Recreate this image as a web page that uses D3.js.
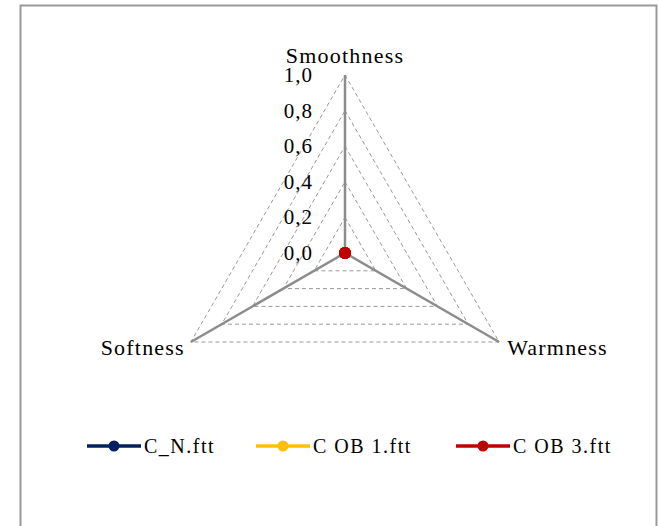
<!DOCTYPE html>
<html>
<head>
<meta charset="utf-8">
<script src="https://cdn.jsdelivr.net/npm/d3@7"></script>
<style>
  body { margin: 0; background: #fff; }
  text { font-family: "Liberation Serif", serif; fill: #000; }
</style>
</head>
<body>
<script>
const width = 658
const height = 526
const center = { x: 345, y: 253 }
const radius = 178

const axes = ['Smoothness', 'Warmness', 'Softness']
const ticks = [0, 0.2, 0.4, 0.6, 0.8, 1.0]
const seriesNames = ['C_N.ftt', 'C OB 1.ftt', 'C OB 3.ftt']
const seriesColors = ['#002060', '#FFC000', '#C00000']
const seriesValues = [
  [0, 0, 0],
  [0, 0, 0],
  [0, 0, 0]
]

const r = d3.scaleLinear().domain([0, 1]).range([0, radius])
const angle = i => -Math.PI / 2 + i * 2 * Math.PI / axes.length
const pt = (i, v) => [center.x + r(v) * Math.cos(angle(i)), center.y + r(v) * Math.sin(angle(i))]
const fmt = v => d3.format('.1f')(v).replace('.', ',')

const svg = d3.select('body').append('svg')
  .attr('width', width)
  .attr('height', height)

svg.append('rect')
  .attr('x', 20.5).attr('y', 5.5)
  .attr('width', 636).attr('height', 540)
  .attr('fill', '#fff')
  .attr('stroke', '#999')
  .attr('stroke-width', 2)

const line = d3.line()

// grid triangles
svg.selectAll('.grid').data(ticks.filter(t => t > 0)).enter()
  .append('path')
  .attr('class', 'grid')
  .attr('d', t => line(axes.map((a, i) => pt(i, t))) + 'Z')
  .attr('fill', 'none')
  .attr('stroke', '#999')
  .attr('stroke-width', 1)
  .attr('stroke-dasharray', '4,3')

// axis spokes
svg.selectAll('.spoke').data(axes).enter()
  .append('line')
  .attr('class', 'spoke')
  .attr('x1', center.x).attr('y1', center.y)
  .attr('x2', (d, i) => pt(i, 1)[0])
  .attr('y2', (d, i) => pt(i, 1)[1])
  .attr('stroke', '#8c8c8c')
  .attr('stroke-width', 2.5)

// tick labels
svg.selectAll('.tick').data(ticks).enter()
  .append('text')
  .attr('class', 'tick')
  .attr('x', 313)
  .attr('y', t => pt(0, t)[1] + 7)
  .attr('text-anchor', 'end')
  .attr('font-size', 21)
  .attr('letter-spacing', 1)
  .text(fmt)

// axis labels
const labelPos = [
  { dx: 0, dy: -12, anchor: 'middle' },
  { dx: 8, dy: 13, anchor: 'start' },
  { dx: -6, dy: 13, anchor: 'end' }
]
svg.selectAll('.axis-label').data(axes).enter()
  .append('text')
  .attr('class', 'axis-label')
  .attr('x', (d, i) => pt(i, 1)[0] + labelPos[i].dx)
  .attr('y', (d, i) => pt(i, 1)[1] + labelPos[i].dy)
  .attr('text-anchor', (d, i) => labelPos[i].anchor)
  .attr('font-size', 22)
  .attr('letter-spacing', 1.2)
  .text(d => d)

// series
seriesValues.forEach((vals, s) => {
  const pts = vals.map((v, i) => pt(i, v))
  svg.append('path')
    .attr('d', line(pts) + 'Z')
    .attr('fill', 'none')
    .attr('stroke', seriesColors[s])
    .attr('stroke-width', 3)
  svg.selectAll('.dot-' + s).data(pts).enter()
    .append('circle')
    .attr('cx', d => d[0]).attr('cy', d => d[1])
    .attr('r', 6)
    .attr('fill', seriesColors[s])
})

// legend
const legendX = [87, 256, 456]
const legendY = 446
const legend = svg.selectAll('.legend').data(seriesNames).enter()
  .append('g')
  .attr('class', 'legend')
  .attr('transform', (d, i) => `translate(${legendX[i]},${legendY})`)

legend.append('line')
  .attr('x1', 0).attr('x2', 54)
  .attr('stroke', (d, i) => seriesColors[i])
  .attr('stroke-width', 3.5)
legend.append('circle')
  .attr('cx', 27).attr('r', 5.5)
  .attr('fill', (d, i) => seriesColors[i])
legend.append('text')
  .attr('x', 57).attr('y', 7)
  .attr('font-size', 20)
  .attr('letter-spacing', 1.5)
  .attr('xml:space', 'preserve')
  .style('white-space', 'pre')
  .text(d => d)
</script>
</body>
</html>
